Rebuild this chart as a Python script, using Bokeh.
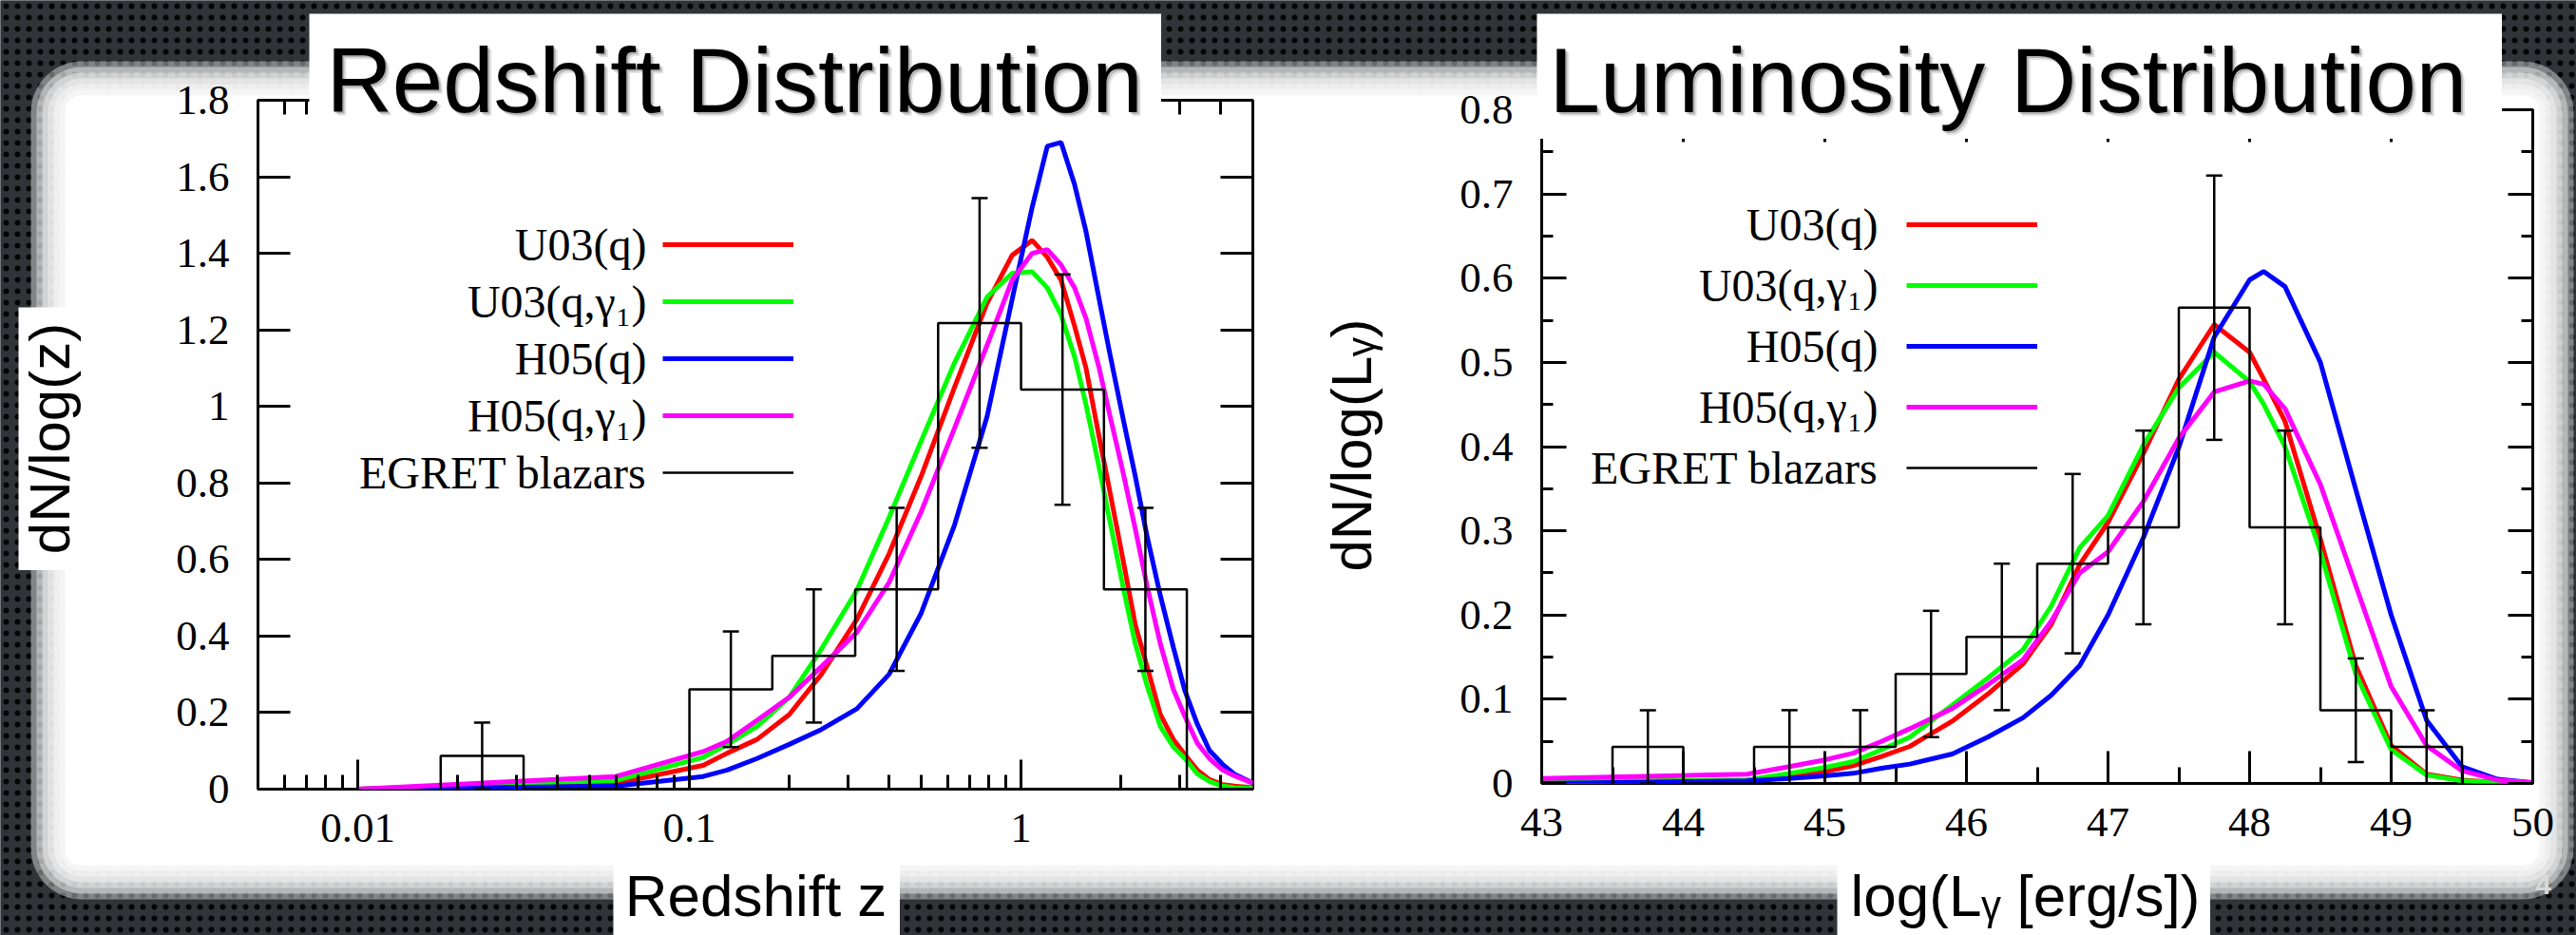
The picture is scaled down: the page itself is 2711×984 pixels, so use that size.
import math
from bokeh.plotting import figure
from bokeh.models import (LogAxis, LinearAxis, FixedTicker, BasicTickFormatter,
                          BoxAnnotation, Label, Legend, LegendItem, Whisker, TeeHead,
                          ColumnDataSource, Range1d)
from bokeh.embed import file_html
from bokeh.resources import INLINE
from bokeh.core.properties import value

# ---------------- data: redshift distribution ----------------
z_major_ticks = [0.01, 0.1, 1]
z_major_labels = ["0.01", "0.1", "1"]
dz_ticks = [0, 0.2, 0.4, 0.6, 0.8, 1.0, 1.2, 1.4, 1.6, 1.8]
dz_labels = ["0", "0.2", "0.4", "0.6", "0.8", "1", "1.2", "1.4", "1.6", "1.8"]

z_model = [0.01, 0.06, 0.11, 0.13, 0.16, 0.20, 0.25, 0.32, 0.40, 0.50, 0.63, 0.79, 0.94, 1.08,
           1.2, 1.32, 1.45, 1.57, 1.72, 1.86, 2.04, 2.21, 2.4, 2.63, 2.88, 3.12, 3.4, 3.7, 4.05, 4.4, 5.0]
z_u03_q = [0.0, 0.015, 0.062, 0.094, 0.13, 0.195, 0.30, 0.444, 0.615, 0.818, 1.05, 1.27, 1.395, 1.434,
           1.39, 1.33, 1.21, 1.10, 0.92, 0.77, 0.59, 0.43, 0.32, 0.195, 0.13, 0.09, 0.05, 0.025, 0.012, 0.008, 0.004]
z_u03_qg = [0.0, 0.023, 0.083, 0.117, 0.164, 0.24, 0.366, 0.52, 0.71, 0.91, 1.114, 1.286, 1.348, 1.352,
            1.31, 1.239, 1.13, 1.005, 0.84, 0.693, 0.52, 0.38, 0.27, 0.164, 0.11, 0.08, 0.04, 0.02, 0.008, 0.004, 0.002]
z_h05_q = [0.0, 0.008, 0.033, 0.05, 0.08, 0.117, 0.156, 0.21, 0.30, 0.46, 0.69, 0.974, 1.28, 1.52,
           1.68, 1.69, 1.58, 1.457, 1.28, 1.13, 0.96, 0.818, 0.66, 0.506, 0.37, 0.257, 0.17, 0.101, 0.065, 0.039, 0.016]
z_h05_qg = [0.0, 0.033, 0.098, 0.125, 0.18, 0.24, 0.32, 0.41, 0.54, 0.725, 0.943, 1.16, 1.33, 1.40,
            1.41, 1.37, 1.31, 1.23, 1.10, 0.97, 0.82, 0.68, 0.53, 0.38, 0.26, 0.19, 0.12, 0.08, 0.05, 0.035, 0.016]

z_hist_edges = [0.01778, 0.03162, 0.05623, 0.1, 0.1778, 0.3162, 0.5623, 1.0, 1.778, 3.162]
z_hist_vals = [0.087, 0.0, 0.0, 0.261, 0.348, 0.522, 1.218, 1.044, 0.522]
z_hist_err = [0.087, 0.0, 0.0, 0.151, 0.174, 0.213, 0.326, 0.301, 0.213]

# ---------------- data: luminosity distribution ----------------
L_major_ticks = [43, 44, 45, 46, 47, 48, 49, 50]
L_major_labels = ["43", "44", "45", "46", "47", "48", "49", "50"]
dL_ticks = [0, 0.1, 0.2, 0.3, 0.4, 0.5, 0.6, 0.7, 0.8]
dL_labels = ["0", "0.1", "0.2", "0.3", "0.4", "0.5", "0.6", "0.7", "0.8"]

L_model = [43.0, 44.45, 44.75, 45.0, 45.2, 45.4, 45.6, 45.9, 46.15, 46.4, 46.6, 46.8, 47.0, 47.25, 47.5,
           47.75, 48.0, 48.1, 48.25, 48.5, 48.75, 49.0, 49.25, 49.5, 49.75, 50.0]
L_u03_q = [0.002, 0.004, 0.009, 0.014, 0.021, 0.032, 0.044, 0.074, 0.106, 0.142, 0.189, 0.26, 0.31, 0.392,
           0.48, 0.545, 0.512, 0.48, 0.43, 0.29, 0.14, 0.045, 0.011, 0.004, 0.001, 0.0]
L_u03_qg = [0.002, 0.004, 0.012, 0.019, 0.026, 0.04, 0.055, 0.093, 0.125, 0.159, 0.211, 0.28, 0.318, 0.402,
            0.47, 0.512, 0.477, 0.45, 0.40, 0.275, 0.13, 0.04, 0.01, 0.003, 0.001, 0.0]
L_h05_q = [0.0, 0.003, 0.006, 0.009, 0.012, 0.018, 0.023, 0.035, 0.055, 0.078, 0.105, 0.14, 0.2, 0.292,
           0.399, 0.53, 0.598, 0.608, 0.59, 0.50, 0.349, 0.2, 0.075, 0.02, 0.005, 0.001]
L_h05_qg = [0.006, 0.011, 0.02, 0.028, 0.036, 0.05, 0.065, 0.089, 0.117, 0.147, 0.193, 0.25, 0.275, 0.335,
            0.41, 0.465, 0.478, 0.474, 0.445, 0.355, 0.235, 0.115, 0.045, 0.015, 0.004, 0.001]

L_hist_edges = [43.5, 44.0, 44.5, 45.0, 45.5, 46.0, 46.5, 47.0, 47.5, 48.0, 48.5, 49.0, 49.5]
L_hist_vals = [0.0435, 0.0, 0.0435, 0.0435, 0.13, 0.174, 0.261, 0.304, 0.565, 0.304, 0.087, 0.0435]
L_hist_err = [0.0435, 0.0, 0.0435, 0.0435, 0.075, 0.087, 0.1065, 0.115, 0.157, 0.115, 0.0615, 0.0435]

series_names = ["U03(q)", "U03(q,\u03b3\u2081)", "H05(q)", "H05(q,\u03b3\u2081)", "EGRET blazars"]
series_colors = ["#ff0000", "#00ff00", "#0000ff", "#ff00ff"]

titles = ["Redshift Distribution", "Luminosity Distribution"]
x_titles = ["Redshift z", "log(L\u1d67 [erg/s])"]
y_titles = ["dN/log(z)", "dN/log(L\u1d67)"]

# ---------------- page geometry (pixels) ----------------
W, H = 2711, 984
PANEL = (50, 82, 2690, 928)  # white slide panel
F1 = dict(fl=271, fr=1318, ft=105, fb=830)
F2 = dict(fl=1622, fr=2665, ft=115, fb=824)
R1 = (150, 80, 1340, 925)    # left data figure box on page
R2 = (1480, 90, 2690, 925)   # right data figure box on page

SERIF = "Liberation Serif"
SANS = "Liberation Sans"


def place(p, X0, Y0, z):
    p.styles = {"position": "absolute", "left": f"{X0}px", "top": f"{Y0}px", "z-index": str(z)}


def deco_fig(X0, Y0, X1, Y1, fill, z):
    p = figure(width=X1 - X0, height=Y1 - Y0, x_range=Range1d(X0, X1), y_range=Range1d(Y1, Y0),
               min_border=0, x_axis_location=None, y_axis_location=None,
               toolbar_location=None, output_backend="svg",
               background_fill_color=fill, border_fill_color=fill, outline_line_color=None)
    p.grid.visible = False
    place(p, X0, Y0, z)
    return p


def text(p, X, Y, s, size, font=SANS, align="left", angle=0.0,
         color="black", alpha=1.0, style="normal"):
    # (X, Y) is the vertical middle of the text line
    p.add_layout(Label(x=X, y=Y, text=s, text_font=font, text_font_size=f"{size}px",
                       text_align=align, text_baseline="middle", angle=angle,
                       text_color=color, text_alpha=alpha, text_font_style=style))


def data_fig(F, R, x_axis_type, xr, yr):
    X0, Y0, X1, Y1 = R
    p = figure(width=X1 - X0, height=Y1 - Y0, x_axis_type=x_axis_type,
               x_range=Range1d(*xr), y_range=Range1d(*yr),
               output_backend="svg", toolbar_location=None,
               min_border_left=F["fl"] - X0, min_border_right=X1 - F["fr"],
               min_border_top=F["ft"] - Y0, min_border_bottom=Y1 - F["fb"],
               background_fill_alpha=0, border_fill_alpha=0,
               outline_line_color="black", outline_line_width=3)
    p.xgrid.visible = False
    p.ygrid.visible = False
    place(p, X0, Y0, 2)
    return p


def style_axis(ax, ticks, labels, minor, major_in, minor_in, show, standoff):
    ax.ticker = FixedTicker(ticks=ticks, minor_ticks=minor)
    ax.formatter = BasicTickFormatter()
    if show:
        ax.major_label_overrides = {t: s for t, s in zip(ticks, labels)}
    else:
        ax.major_label_overrides = {t: "" for t in ticks}
    ax.axis_line_color = None
    ax.major_tick_in = major_in
    ax.major_tick_out = 0
    ax.minor_tick_in = minor_in
    ax.minor_tick_out = 0
    ax.major_tick_line_width = 3
    ax.minor_tick_line_width = 3
    ax.major_tick_line_color = "black"
    ax.minor_tick_line_color = "black"
    ax.major_label_text_font = SERIF
    ax.major_label_text_color = "black"
    ax.major_label_text_font_size = "45px" if show else "2px"
    ax.major_label_standoff = standoff if show else 0


def step_xy(edges, vals):
    xs, ys = [edges[0]], [0.0]
    for i, v in enumerate(vals):
        xs += [edges[i], edges[i + 1]]
        ys += [v, v]
    xs.append(edges[-1])
    ys.append(0.0)
    return xs, ys


def draw_panel(p, F, xm, curves, edges, vals, errs, centers, legend_x0, legend_w, row_y, text_x):
    rends = []
    for ys, c in zip(curves, series_colors):
        rends.append(p.line(xm, ys, line_color=c, line_width=5))
    hx, hy = step_xy(edges, vals)
    rends.append(p.line(hx, hy, line_color="black", line_width=2.5))
    keep = [i for i, v in enumerate(vals) if v > 0]
    src = ColumnDataSource(dict(x=[centers[i] for i in keep],
                                lo=[max(vals[i] - errs[i], 0.0) for i in keep],
                                hi=[vals[i] + errs[i] for i in keep]))
    p.add_layout(Whisker(source=src, base="x", lower="lo", upper="hi", dimension="height",
                         line_color="black", line_width=2.5, level="glyph",
                         upper_head=TeeHead(size=17, line_width=2.5, line_color="black"),
                         lower_head=TeeHead(size=17, line_width=2.5, line_color="black")))
    pitch = row_y[1] - row_y[0]
    gh = 20
    n = len(rends)
    leg_h = n * gh + (n - 1) * (pitch - gh)
    bottom = row_y[0] - gh / 2 + leg_h
    p.add_layout(Legend(items=[LegendItem(label=value(" "), renderers=[r]) for r in rends],
                        location=(legend_x0 - F["fl"], F["fb"] - bottom),
                        orientation="vertical", glyph_width=legend_w, glyph_height=gh,
                        label_width=1, label_height=gh, label_standoff=0, spacing=pitch - gh,
                        padding=0, margin=0, border_line_color=None, background_fill_alpha=0,
                        label_text_font_size="8px"))
    for name, y in zip(series_names, row_y):
        p.add_layout(Label(x=text_x - F["fl"], y=F["fb"] - y, x_units="screen", y_units="screen",
                           text=name, text_font=SERIF, text_font_size="48px", text_color="black",
                           text_align="right", text_baseline="middle"))


# ---------------- background slide ----------------
bg = deco_fig(0, 0, W, H, "#1d2024", 0)
bg.add_layout(BoxAnnotation(left=0, right=W, top=0, bottom=H, fill_color="#303439", fill_alpha=1.0,
                            line_color=None, hatch_pattern="dot", hatch_color="#040506",
                            hatch_scale=12, hatch_weight=1))
PL, PT, PR, PB = PANEL
for e in [18, 12, 6, 0, -6, -12]:
    bg.add_layout(BoxAnnotation(left=PL - e, right=PR + e, top=PT - e, bottom=PB + e,
                                fill_color="white", fill_alpha=0.4, line_color=None,
                                border_radius=max(8, 36 + e)))
bg.add_layout(BoxAnnotation(left=PL + 18, right=PR - 18, top=PT + 18, bottom=PB - 18,
                            fill_color="white", fill_alpha=1.0, line_color=None, border_radius=16))
text(bg, 1422, 468, y_titles[1], 60, align="center", angle=math.pi / 2)
text(bg, 2676, 930, "4", 30, align="center", color="#d8d8d8", style="bold")

# ---------------- left: redshift ----------------
p1 = data_fig(F1, R1, "log", (0.005, 5), (0, 1.8))
z_minor = [k * 10.0 ** e for e in (-3, -2, -1, 0) for k in range(2, 10) if 0.005 < k * 10.0 ** e < 5]
style_axis(p1.xaxis[0], z_major_ticks, z_major_labels, z_minor, 31, 15, True, 26)
style_axis(p1.yaxis[0], dz_ticks, dz_labels, [], 34, 0, True, 30)
top1, right1 = LogAxis(), LinearAxis()
style_axis(top1, z_major_ticks, z_major_labels, z_minor, 31, 15, False, 0)
style_axis(right1, dz_ticks, dz_labels, [], 34, 0, False, 0)
p1.add_layout(top1, "above")
p1.add_layout(right1, "right")
z_centers = [math.sqrt(z_hist_edges[i] * z_hist_edges[i + 1]) for i in range(len(z_hist_vals))]
draw_panel(p1, F1, z_model, [z_u03_q, z_u03_qg, z_h05_q, z_h05_qg],
           z_hist_edges, z_hist_vals, z_hist_err, z_centers,
           697, 138, [257, 317, 377, 437, 497], 680)

# ---------------- right: luminosity ----------------
p2 = data_fig(F2, R2, "linear", (43, 50), (0, 0.8))
L_minor = [43.5 + i for i in range(7)]
dL_minor = [0.05 + 0.1 * i for i in range(8)]
style_axis(p2.xaxis[0], L_major_ticks, L_major_labels, L_minor, 34, 17, True, 26)
style_axis(p2.yaxis[0], dL_ticks, dL_labels, dL_minor, 26, 12, True, 30)
top2, right2 = LinearAxis(), LinearAxis()
style_axis(top2, L_major_ticks, L_major_labels, L_minor, 34, 17, False, 0)
style_axis(right2, dL_ticks, dL_labels, dL_minor, 26, 12, False, 0)
p2.add_layout(top2, "above")
p2.add_layout(right2, "right")
L_centers = [(L_hist_edges[i] + L_hist_edges[i + 1]) / 2 for i in range(len(L_hist_vals))]
draw_panel(p2, F2, L_model, [L_u03_q, L_u03_qg, L_h05_q, L_h05_qg],
           L_hist_edges, L_hist_vals, L_hist_err, L_centers,
           2006, 138, [236, 300, 364, 428, 492], 1976)

# ---------------- boxes on top: titles and axis titles ----------------
t1 = deco_fig(325, 14, 1222, 146, "white", 3)
t2 = deco_fig(1617, 14, 2633, 146, "white", 3)
for (p, X, s) in [(t1, 343, titles[0]), (t2, 1630, titles[1])]:
    text(p, X + 4, 88, s, 96, alpha=0.12)
    text(p, X + 2, 86, s, 96, alpha=0.22)
    text(p, X, 84, s, 96)

yl1 = deco_fig(19, 323, 90, 600, "white", 3)
text(yl1, 52, 461, y_titles[0], 60, align="center", angle=math.pi / 2)
xl1 = deco_fig(645, 895, 947, 984, "white", 3)
text(xl1, 795, 942, x_titles[0], 62, align="center")
xl2 = deco_fig(1933, 898, 2326, 984, "white", 3)
text(xl2, 2131, 942, x_titles[1], 62, align="center")

roots = [bg, p1, p2, t1, t2, yl1, xl1, xl2]
open("out.html", "w").write(file_html(roots, INLINE))
